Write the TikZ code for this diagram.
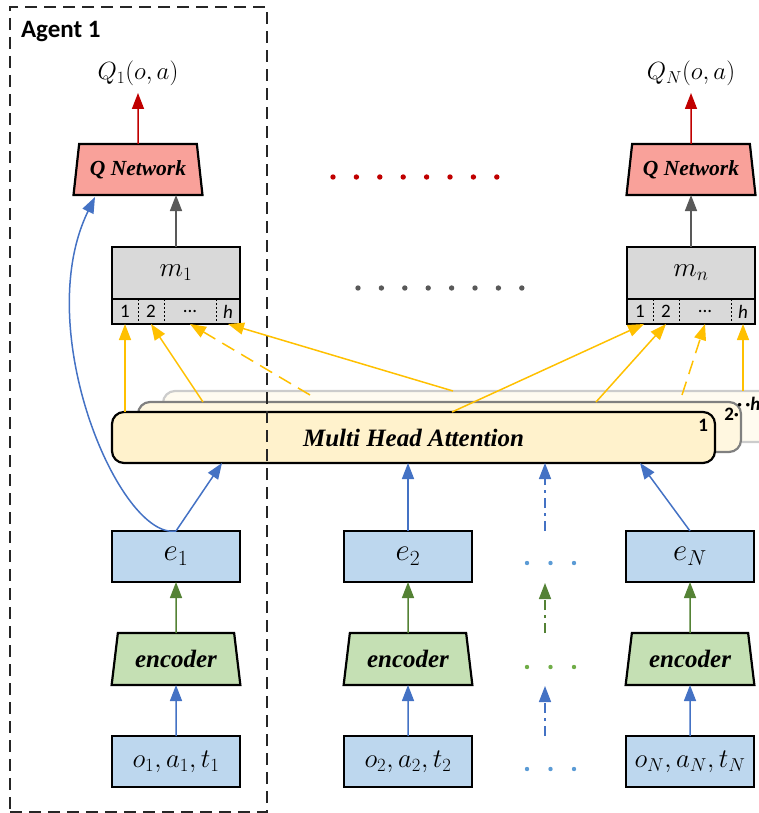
\documentclass[tikz,border=0pt]{standalone}
\usepackage{graphicx}
\usepackage{fontspec}
\setmainfont{Liberation Serif}
\newfontfamily\calibri{Carlito}
\usetikzlibrary{arrows.meta,positioning,shapes.geometric,calc}

\definecolor{eblue}{HTML}{BDD7EE}
\definecolor{egreen}{HTML}{C5E0B4}
\definecolor{qred}{HTML}{F9A19A}
\definecolor{mgray}{HTML}{D9D9D9}
\definecolor{myellow}{HTML}{FFF2CC}
\definecolor{lblue}{HTML}{4472C4}
\definecolor{lgreen}{HTML}{548235}
\definecolor{lred}{HTML}{C00000}
\definecolor{lgray}{HTML}{595959}
\definecolor{lorange}{HTML}{FFC000}
\definecolor{dblue}{HTML}{5B9BD5}
\definecolor{dgreen}{HTML}{70AD47}

\begin{document}
\begin{tikzpicture}[x=1pt, y=-1pt,
  every node/.style={inner sep=0pt, outer sep=0pt},
  box/.style={rectangle, draw=black, line width=2.2pt, minimum width=128pt,
              minimum height=51pt, font=\fontsize{24}{28}\selectfont},
  embox/.style={box, fill=eblue},
  membox/.style={box, fill=mgray, minimum height=52pt},
  cellrow/.style={box, fill=mgray, minimum height=25pt},
  cell/.style={rectangle, minimum height=25pt, anchor=west,
               font=\calibri\fontsize{19}{22}\selectfont},
  sep/.style={line width=1pt, dash pattern=on 2pt off 2pt},
  trap/.style={trapezium, trapezium stretches=true, trapezium left angle=76,
               trapezium right angle=76, draw=black, line width=2.2pt,
               minimum width=129pt, minimum height=51pt,
               font=\bfseries\itshape\fontsize{25}{30}\selectfont},
  encbox/.style={trap, fill=egreen},
  qnetbox/.style={trap, fill=qred, font=\bfseries\itshape\fontsize{21.5}{26}\selectfont},
  layer/.style={rectangle, rounded corners=12pt, line width=2.2pt,
                minimum height=51pt},
  laynum/.style={font=\calibri\bfseries\fontsize{19}{22}\selectfont},
  qlab/.style={font=\fontsize{24}{28}\selectfont, anchor=base},
  agentbox/.style={rectangle, draw=black!85, line width=1.3pt,
                   dash pattern=on 12pt off 7pt},
  arr/.style={-{Triangle[length=16pt, width=12pt]}, line width=1.5pt},
  barr/.style={arr, lblue},
  garr/.style={arr, lgreen},
  rarr/.style={arr, lred},
  grarr/.style={arr, lgray},
  yarr/.style={arr, lorange},
  ddash/.style={dash pattern=on 10pt off 5pt on 3pt off 5pt},
  ydash/.style={dash pattern=on 14pt off 8pt}
]
\useasboundingbox (0,0) rectangle (759,813);

% attention heads, back to front
\node[layer, draw=black!20, fill=myellow!30, minimum width=627pt] (L3) at (476.5,416.5) {};
\node[layer, draw=black!50, fill=myellow!60, minimum width=603pt, minimum height=50pt] (L2) at (439.5,427) {};
\node[layer, draw=black, fill=myellow, minimum width=603pt,
      font=\bfseries\itshape\fontsize{25}{30}\selectfont] (L1) at (413.5,437.5) {Multi Head Attention};
\node[laynum, anchor=west] at (737,404) {·\,·\textit{h}};
\node[laynum, anchor=north east] at (739,408) {2·};
\node[laynum, anchor=north east] at (708,419) {1};

% agent 1 frame
\node[agentbox, minimum width=257pt, minimum height=805pt] (agent) at (138.5,409.5) {};
\node[anchor=base west, font=\calibri\bfseries\fontsize{25}{30}\selectfont] (agtxt) at (21,38) {Agent 1};

% Q outputs
\node[qlab] (q1) at (138,80) {$Q_1(o,a)$};
\node[qlab] (qN) at (691,80) {$Q_N(o,a)$};
\node[qnetbox] (qnet1) at (138,169.5) {Q Network};
\node[qnetbox] (qnetN) at (691,169.5) {Q Network};

% messages
\node[membox] (m1) at (176,273) {\scalebox{1.1}{$m_1$}};
\node[membox] (mN) at (691,273) {\scalebox{1.1}{$m_n$}};
\foreach \a in {1,N}{
  \node[cellrow, below=0pt of m\a] (r\a) {};
  \node[cell, minimum width=26pt] (r\a a) at (r\a.west) {1};
  \node[cell, minimum width=26pt] (r\a b) at (r\a a.east) {2};
  \node[cell, minimum width=52pt] (r\a c) at (r\a b.east) {...};
  \node[cell, minimum width=24pt] (r\a d) at (r\a c.east) {\textit{h}};
  \draw[sep] (r\a a.north east) -- (r\a a.south east);
  \draw[sep] (r\a b.north east) -- (r\a b.south east);
  \draw[sep] (r\a c.north east) -- (r\a c.south east);
}

% embeddings, encoders, inputs
\node[embox] (e1) at (176,556.5) {\scalebox{1.25}{$e_1$}};
\node[embox] (e2) at (408,556.5) {\scalebox{1.25}{$e_2$}};
\node[embox] (eN) at (690,556.5) {\scalebox{1.25}{$e_N$}};
\node[encbox, minimum height=52pt] (enc1) at (176,659) {encoder};
\node[encbox, minimum height=52pt] (enc2) at (408,659) {encoder};
\node[encbox, minimum height=52pt] (encN) at (690,659) {encoder};
\node[embox] (o1) at (176,761.5) {\scalebox{1.08}{$o_1,a_1,t_1$}};
\node[embox] (o2) at (408,761.5) {\scalebox{1.08}{$o_2,a_2,t_2$}};
\node[embox] (oN) at (690,761.5) {\scalebox{1.08}{$o_N,a_N,t_N$}};

% ellipsis dots
\foreach \i in {0,...,7}{
  \fill[lred] (333+23.4*\i,177) circle (2.7);
  \fill[lgray] (358+23.4*\i,288) circle (2.7);
}
\foreach \i in {0,1,2}{
  \fill[dblue] (527+23.5*\i,563) circle (2.2);
  \fill[dgreen] (527+23.5*\i,667) circle (2.2);
  \fill[dblue] (527+23.5*\i,769) circle (2.2);
}

% free ends
\coordinate (qin) at (95,197);
\coordinate (a1in) at (222,463);
\coordinate (aNin) at (640,463);
\coordinate (b1) at (203,402);
\coordinate (c1) at (310,395);
\coordinate (d1) at (453,391);
\coordinate (aN) at (452,412);
\coordinate (bN) at (596,402);
\coordinate (cN) at (682,395);
\coordinate (gE) at (545,531);
\coordinate (gEt) at (545,463);
\coordinate (gC) at (545,633);
\coordinate (gCt) at (545,583);
\coordinate (gO) at (545,736);
\coordinate (gOt) at (545,686);

% connectors
\draw[rarr] (qnet1.north) -- (q1.south |- 0,93);
\draw[rarr] (qnetN.north) -- (qN.south |- 0,93);
\draw[grarr] (m1.north) -- (m1.north |- qnet1.south);
\draw[grarr] (mN.north) -- (mN.north |- qnetN.south);

\draw[yarr] (r1a.south |- L1.north) -- (r1a.south);
\draw[yarr] (b1) -- (r1b.south);
\draw[yarr, ydash] (c1) -- (r1c.south);
\draw[yarr] (d1) -- (r1d.south);
\draw[yarr] (aN) -- ($(rNa.south)+(4,0)$);
\draw[yarr] (bN) -- (rNb.south);
\draw[yarr, ydash] (cN) -- (rNc.south);
\draw[yarr] (rNd.south |- L3.north) -- (rNd.south);

\draw[barr] (e1.north) .. controls (120,540) and (30,330) .. (qin);
\draw[barr] (e1.north) -- (a1in);
\draw[barr] (e2.north) -- (e2.north |- L1.south);
\draw[barr] (eN.north) -- (aNin);
\draw[barr, ddash] (gE) -- (gEt);

\foreach \a in {1,2,N}{
  \draw[garr] (enc\a.north) -- (e\a.south);
  \draw[barr] (o\a.north) -- (enc\a.south);
}
\draw[garr, ddash] (gC) -- (gCt);
\draw[barr, ddash] (gO) -- (gOt);
\end{tikzpicture}
\end{document}
